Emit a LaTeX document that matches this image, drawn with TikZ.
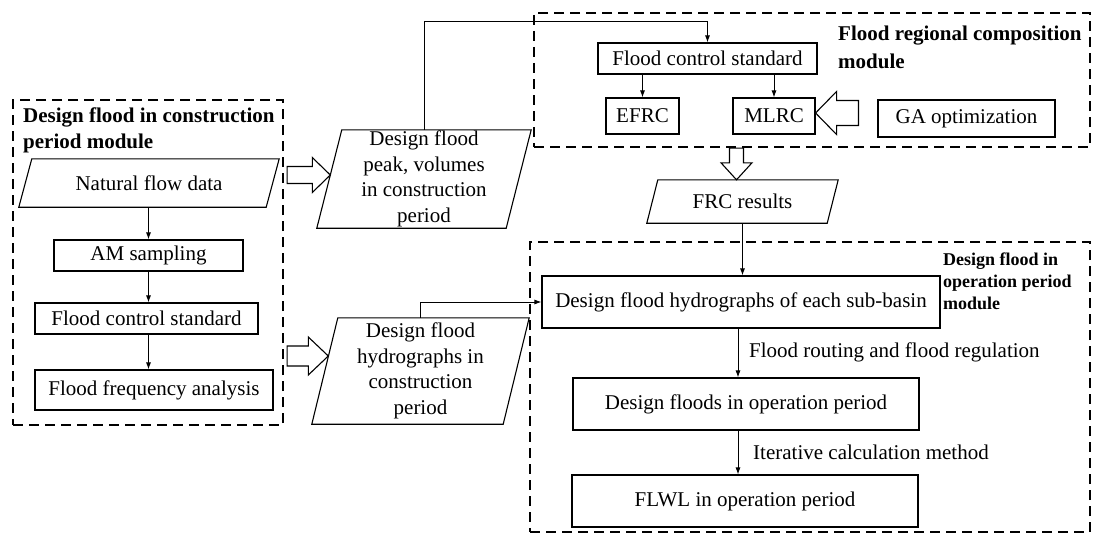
\documentclass[tikz,border=0pt]{standalone}
\usepackage{fontspec}
\setmainfont{Liberation Serif}
\usetikzlibrary{arrows.meta,calc}
\newcommand\reg{\fontsize{21}{25.5}\selectfont}
\tikzset{
 box/.style={draw, line width=1.1pt, inner sep=0pt, align=center, font=\reg},
 pbox/.style={inner sep=0pt, align=center, font=\reg},
 modbox/.style={draw, line width=2.2pt, dash pattern=on 10pt off 6pt, inner sep=0pt},
 arr/.style={line width=0.9pt, -{Latex[length=7pt,width=5pt]}},
 hollow/.style={draw, line width=1.1pt, fill=white, line join=miter},
 modtitle/.style={font=\bfseries\fontsize{21}{26}\selectfont, align=left, inner sep=0pt, anchor=base west},
 elabel/.style={font=\reg, inner sep=0pt, anchor=base west},
}
\newcommand\paradraw[2]{\draw[line width=1.1pt, line join=miter] ([xshift=#2]#1.north west) -- ([xshift=#2]#1.north east) -- ([xshift=-#2]#1.south east) -- ([xshift=-#2]#1.south west) -- cycle;}
\newcommand\hollowarr[5]{%
 \coordinate (hS) at (#1); \coordinate (hE) at (#2);
 \coordinate (hB) at ($(hE)!#5!(hS)$);
 \draw[hollow] ($(hS)!#3!90:(hE)$) -- ($(hB)!#3!90:(hE)$) -- ($(hB)!#4!90:(hE)$) -- (hE) -- ($(hB)!#4!-90:(hE)$) -- ($(hB)!#3!-90:(hE)$) -- ($(hS)!#3!-90:(hE)$) -- cycle;}
\begin{document}
\begin{tikzpicture}[x=1pt,y=-1pt]
\useasboundingbox (0,0) rectangle (1100,535);
% modules
\node[modbox, minimum width=270pt, minimum height=325pt] (m1) at (148,262.5) {};
\node[modbox, minimum width=556pt, minimum height=134pt] (m2) at (812,80) {};
\node[modbox, minimum width=560pt, minimum height=290pt] (m3) at (810,387) {};
\node[modtitle] (t1) at (23,148) {Design flood in construction\\period module};
\node[modtitle, font=\bfseries\fontsize{21}{28}\selectfont] (t2) at (838,68) {Flood regional composition\\module};
\node[modtitle, font=\bfseries\fontsize{18}{22}\selectfont] (t3) at (943,309) {Design flood in\\operation period\\module};
% left module
\node[pbox, minimum width=247pt, minimum height=48pt] (nat) at (149,183) {Natural flow data};
\paradraw{nat}{6.5pt}
\node[box, minimum width=189pt, minimum height=31pt] (am) at (148.5,255.5) {AM sampling};
\node[box, minimum width=223pt, minimum height=31pt] (fcs1) at (146.5,318.5) {Flood control standard};
\node[box, minimum width=238pt, minimum height=40pt] (ffa) at (154,390) {Flood frequency analysis};
\draw[arr] (nat.south -| am.north) -- (am.north);
\draw[arr] (am.south) -- (am.south |- fcs1.north);
\draw[arr] (am.south |- fcs1.south) -- (am.south |- ffa.north);
% outputs of construction module
\node[pbox, minimum width=189pt, minimum height=98pt] (dfp) at (424,179) {Design flood\\peak, volumes\\in construction\\period};
\paradraw{dfp}{12.5pt}
\node[pbox, minimum width=191pt, minimum height=106pt] (dfh) at (420.5,371) {Design flood\\hydrographs in\\construction\\period};
\paradraw{dfh}{13pt}
% regional composition module
\node[box, minimum width=219pt, minimum height=31pt] (fcs2) at (707.5,58.5) {Flood control standard};
\node[box, minimum width=73pt, minimum height=36pt] (efrc) at (642.5,116) {EFRC};
\node[box, minimum width=82pt, minimum height=36pt] (mlrc) at (774,116) {MLRC};
\node[box, minimum width=177pt, minimum height=37pt] (ga) at (966.5,118.5) {GA optimization};
\draw[arr] (dfp.north) |- ($(fcs2.north)+(0,-21)$) -- (fcs2.north);
\draw[arr] (efrc.north |- fcs2.south) -- (efrc.north);
\draw[arr] (mlrc.north |- fcs2.south) -- (mlrc.north);
% FRC results
\node[pbox, minimum width=180pt, minimum height=43pt] (frc) at (742.5,201.5) {FRC results};
\paradraw{frc}{5.5pt}
% operation module
\node[box, minimum width=398pt, minimum height=52pt] (hyd) at (741,302) {Design flood hydrographs of each sub-basin};
\node[box, minimum width=346pt, minimum height=52pt] (dfo) at (746,404) {Design floods in operation period};
\node[box, minimum width=346pt, minimum height=52pt] (flwl) at (745,501) {FLWL in operation period};
\draw[arr] (frc.south) -- (frc.south |- hyd.north);
\draw[arr] (dfh.north) |- (hyd.west);
\draw[arr] ($(hyd.south)+(-3,0)$) -- ($(hyd.south |- dfo.north)+(-3,0)$);
\draw[arr] ($(hyd.south |- dfo.south)+(-3,0)$) -- ($(hyd.south |- flwl.north)+(-3,0)$);
\node[elabel] (l1) at (749,357) {Flood routing and flood regulation};
\node[elabel] (l2) at (753,459) {Iterative calculation method};
% hollow arrows
\coordinate (a1e) at ($(dfp.west)+(1,-4)$);
\coordinate (a1s) at ($(m1.east |- a1e)+(3,0)$);
\hollowarr{a1s}{a1e}{8.5pt}{17.5pt}{18pt}
\coordinate (a2e) at ($(dfh.west)+(3.5,-15)$);
\coordinate (a2s) at ($(m1.east |- a2e)+(3,0)$);
\hollowarr{a2s}{a2e}{10pt}{19pt}{20pt}
\coordinate (a3s) at ($(frc.north |- m2.south)+(-6,0)$);
\coordinate (a3e) at ($(frc.north)+(-6,0)$);
\hollowarr{a3s}{a3e}{7pt}{15.5pt}{17pt}
\coordinate (a4e) at ($(mlrc.east)+(0,-3)$);
\coordinate (a4s) at ($(ga.west |- a4e)+(-19,0)$);
\hollowarr{a4s}{a4e}{12.5pt}{21.5pt}{21pt}
\end{tikzpicture}
\end{document}
